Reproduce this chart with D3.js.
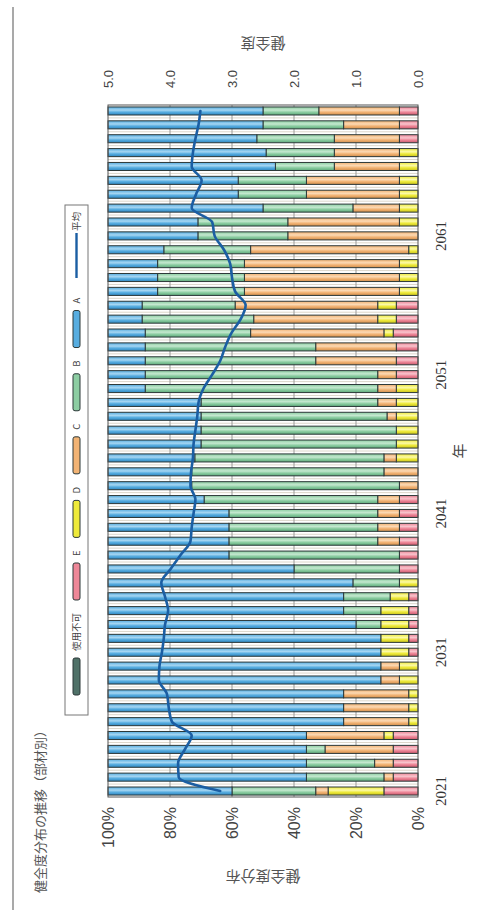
<!DOCTYPE html>
<html>
<head>
<meta charset="utf-8">
<script src="https://cdn.jsdelivr.net/npm/d3@7/dist/d3.min.js"></script>
<style>
  body { margin: 0; background: #ffffff; }
  svg { display: block; }
</style>
</head>
<body>
<svg id="chart" width="488" height="910"></svg>
<script>
// ---- data -------------------------------------------------------------
const years = [2021, 2022, 2023, 2024, 2025, 2026, 2027, 2028, 2029, 2030,
               2031, 2032, 2033, 2034, 2035, 2036, 2037, 2038, 2039, 2040,
               2041, 2042, 2043, 2044, 2045, 2046, 2047, 2048, 2049, 2050,
               2051, 2052, 2053, 2054, 2055, 2056, 2057, 2058, 2059, 2060,
               2061, 2062, 2063, 2064, 2065, 2066, 2067, 2068, 2069, 2070];

// share of members per soundness grade (%)
const gradeA = [40, 64, 64, 64, 64, 76, 76, 76, 88, 88,
                88, 88, 80, 76, 76, 79, 60, 39, 39, 39,
                39, 31, 27, 27, 28, 30, 30, 30, 30, 12,
                12, 12, 12, 12, 11, 11, 16, 16, 16, 18,
                29, 29, 50, 42, 42, 54, 51, 48, 50, 50];
const gradeB = [27, 25, 22, 6, 0, 0, 0, 0, 0, 0,
                0, 0, 8, 12, 15, 15, 34, 55, 48, 48,
                48, 56, 67, 62, 61, 63, 63, 60, 57, 75,
                75, 55, 55, 34, 36, 30, 28, 28, 28, 28,
                29, 29, 29, 22, 22, 19, 22, 25, 26, 18];
const gradeC = [4, 3, 6, 22, 25, 21, 21, 21, 6, 6,
                0, 0, 0, 0, 0, 0, 0, 0, 7, 7,
                7, 7, 6, 11, 4, 0, 0, 3, 6, 6,
                6, 26, 26, 43, 40, 46, 50, 50, 50, 51,
                42, 36, 15, 30, 30, 21, 21, 21, 18, 26];
const gradeD = [18, 0, 0, 0, 3, 3, 3, 3, 6, 6,
                9, 9, 9, 9, 6, 6, 0, 0, 0, 0,
                0, 0, 0, 0, 7, 7, 7, 7, 7, 7,
                0, 0, 0, 3, 6, 6, 6, 6, 6, 3,
                0, 6, 6, 6, 6, 6, 6, 0, 0, 0];
const gradeE = [11, 8, 8, 8, 8, 0, 0, 0, 0, 0,
                3, 3, 3, 3, 3, 0, 6, 6, 6, 6,
                6, 6, 0, 0, 0, 0, 0, 0, 0, 0,
                7, 7, 7, 8, 7, 7, 0, 0, 0, 0,
                0, 0, 0, 0, 0, 0, 0, 6, 6, 6];
const gradeX = [0, 0, 0, 0, 0, 0, 0, 0, 0, 0,
                0, 0, 0, 0, 0, 0, 0, 0, 0, 0,
                0, 0, 0, 0, 0, 0, 0, 0, 0, 0,
                0, 0, 0, 0, 0, 0, 0, 0, 0, 0,
                0, 0, 0, 0, 0, 0, 0, 0, 0, 0];

// average soundness (right axis, 0.0 - 5.0)
const average = [3.19, 3.86, 3.87, 3.76, 3.65, 3.97, 4.02, 4.05, 4.18, 4.17,
                 4.13, 4.10, 4.08, 4.03, 4.08, 4.14, 3.99, 3.83, 3.67, 3.65,
                 3.62, 3.59, 3.67, 3.66, 3.63, 3.62, 3.59, 3.56, 3.54, 3.46,
                 3.32, 3.19, 3.11, 3.01, 2.86, 2.78, 2.95, 3.00, 3.03, 3.13,
                 3.28, 3.32, 3.65, 3.58, 3.49, 3.65, 3.63, 3.59, 3.54, 3.51];

const seriesKeys   = ["使用不可", "E", "D", "C", "B", "A"];
const seriesValues = [gradeX, gradeE, gradeD, gradeC, gradeB, gradeA];
const pctTicks  = [0, 20, 40, 60, 80, 100];
const avgTicks  = [0, 1, 2, 3, 4, 5];
const yearTicks = [2021, 2031, 2041, 2051, 2061];

const titleText = "健全度分布の推移（部材別）";
const leftTitle = "健全度分布";
const rightTitle = "健全度";
const xTitle = "年";
const avgLabel = "平均";

// ---- styling ----------------------------------------------------------
const palette = {
  "使用不可": { base: "#4f7168", light: "#8fa9a0", dark: "#2f4a43" },
  "E": { base: "#ee8798", light: "#f8c3cc", dark: "#c9586c" },
  "D": { base: "#eeea3a", light: "#fbf9a8", dark: "#c9c21c" },
  "C": { base: "#f2b374", light: "#fbd9b4", dark: "#d18e4c" },
  "B": { base: "#8ccda2", light: "#c4e8cf", dark: "#5ea97a" },
  "A": { base: "#57ade0", light: "#a6d6f2", dark: "#2f86c0" }
};
const lineColor = "#1b5ea3";
const outline = "#2c3838";

// ---- layout: chart is built landscape, then turned a quarter turn -----
const W = 692, H = 310;
const svg = d3.select("#chart");

svg.append("line")
  .attr("x1", 13).attr("x2", 13).attr("y1", 7).attr("y2", 910)
  .attr("stroke", "#8c8c8c").attr("stroke-width", 1.5);

const defs = svg.append("defs");
seriesKeys.forEach((k, i) => {
  const c = palette[k];
  const gr = defs.append("linearGradient")
    .attr("id", "grad" + i)
    .attr("x1", 0).attr("x2", 1).attr("y1", 0).attr("y2", 0);
  gr.append("stop").attr("offset", "0%").attr("stop-color", c.dark);
  gr.append("stop").attr("offset", "35%").attr("stop-color", c.base);
  gr.append("stop").attr("offset", "60%").attr("stop-color", c.light);
  gr.append("stop").attr("offset", "100%").attr("stop-color", c.base);
});

const g = svg.append("g").attr("transform", "translate(108,797) rotate(-90)");

const x = d3.scaleBand().domain(years).range([0, W])
  .paddingInner(0.42).paddingOuter(0.14);
const y = d3.scaleLinear().domain([0, 100]).range([H, 0]);
const y2 = d3.scaleLinear().domain([0, 5]).range([H, 0]);

// table for the stack
const table = years.map((yr, i) => {
  const row = { year: yr };
  seriesKeys.forEach((k, j) => { row[k] = seriesValues[j][i]; });
  return row;
});
const stacked = d3.stack().keys(seriesKeys)(table);

// plot background
g.append("rect").attr("x", 0).attr("y", 0).attr("width", W).attr("height", H)
  .attr("fill", "#ffffff");

// faint separators between bars
const gapHalf = x.step() * x.paddingInner() / 2;
g.append("g").selectAll("line")
  .data(years.slice(1))
  .join("line")
  .attr("x1", d => x(d) - gapHalf).attr("x2", d => x(d) - gapHalf)
  .attr("y1", 0).attr("y2", H)
  .attr("stroke", "#dcd6ca").attr("stroke-width", 1);

// gridlines
g.append("g").selectAll("line")
  .data(pctTicks.filter(t => t > 0 && t < 100))
  .join("line")
  .attr("x1", 0).attr("x2", W)
  .attr("y1", d => y(d)).attr("y2", d => y(d))
  .attr("stroke", "#9a9a9a").attr("stroke-width", 1);

// stacked bars
g.append("g").selectAll("g")
  .data(stacked)
  .join("g")
  .attr("fill", (d, i) => `url(#grad${i})`)
  .selectAll("rect")
  .data(d => d.filter(s => s[1] - s[0] > 0))
  .join("rect")
  .attr("x", d => x(d.data.year))
  .attr("width", x.bandwidth())
  .attr("y", d => y(d[1]))
  .attr("height", d => y(d[0]) - y(d[1]))
  .attr("stroke", outline).attr("stroke-width", 1);

// average line
const avgLine = d3.line()
  .x((d, i) => x(years[i]) + x.bandwidth() / 2)
  .y(d => y2(d))
  .curve(d3.curveMonotoneX);
g.append("path").datum(average)
  .attr("d", avgLine)
  .attr("fill", "none")
  .attr("stroke", lineColor).attr("stroke-width", 2.6)
  .attr("stroke-linejoin", "round").attr("stroke-linecap", "round");

// frame
g.append("rect").attr("x", 0).attr("y", 0).attr("width", W).attr("height", H)
  .attr("fill", "none").attr("stroke", "#555").attr("stroke-width", 1);

// axes
const leftAxis = g.append("g")
  .call(d3.axisLeft(y).tickValues(pctTicks).tickFormat(d => d + "%").tickSize(0).tickPadding(10));
leftAxis.select(".domain").remove();
leftAxis.selectAll("text")
  .attr("font-family", "'Liberation Sans', Arial, sans-serif")
  .attr("font-size", 16).attr("fill", "#444");

const rightAxis = g.append("g").attr("transform", `translate(${W},0)`)
  .call(d3.axisRight(y2).tickValues(avgTicks).tickFormat(d3.format(".1f")).tickSize(0).tickPadding(17));
rightAxis.select(".domain").remove();
rightAxis.selectAll("text")
  .attr("font-family", "'Liberation Sans', Arial, sans-serif")
  .attr("font-size", 13).attr("fill", "#444");

const bottomAxis = g.append("g").attr("transform", `translate(0,${H})`)
  .call(d3.axisBottom(x).tickValues(yearTicks).tickSize(0).tickPadding(17));
bottomAxis.select(".domain").remove();
bottomAxis.selectAll("text")
  .attr("font-family", "'Liberation Serif', 'Times New Roman', serif")
  .attr("font-size", 15).attr("fill", "#333");

// axis titles
const cjk = "'Noto Sans CJK JP', 'Noto Sans', sans-serif";
g.append("text")
  .attr("transform", `translate(-79,${H / 2}) rotate(-90)`)
  .attr("text-anchor", "middle").attr("dy", "0.35em")
  .attr("font-family", cjk).attr("font-size", 15).attr("fill", "#555")
  .text(leftTitle);
g.append("text")
  .attr("transform", `translate(${W + 62},${H / 2}) rotate(-90)`)
  .attr("text-anchor", "middle").attr("dy", "0.35em")
  .attr("font-family", cjk).attr("font-size", 15).attr("fill", "#555")
  .text(rightTitle);
g.append("text")
  .attr("x", W / 2).attr("y", H + 42)
  .attr("text-anchor", "middle").attr("dy", "0.35em")
  .attr("font-family", cjk).attr("font-size", 15).attr("fill", "#444")
  .text(xTitle);

// chart title
g.append("text")
  .attr("x", -96).attr("y", -68).attr("dy", "0.35em")
  .attr("font-family", cjk).attr("font-size", 13).attr("fill", "#555")
  .text(titleText);

// legend
const legend = g.append("g");
legend.append("rect")
  .attr("x", 82).attr("y", -43).attr("width", 510).attr("height", 23)
  .attr("fill", "#fff").attr("stroke", "#777").attr("stroke-width", 1);
let cursor = 102;
seriesKeys.forEach((k, i) => {
  legend.append("rect")
    .attr("x", cursor).attr("y", -35).attr("width", 37).attr("height", 7)
    .attr("rx", 2)
    .attr("fill", palette[k].base).attr("stroke", outline).attr("stroke-width", 1);
  const t = legend.append("text")
    .attr("x", cursor + 44).attr("y", -31.5).attr("dy", "0.35em")
    .attr("font-family", cjk).attr("font-size", 9.5).attr("fill", "#444")
    .text(k);
  cursor += 44 + t.node().getComputedTextLength() + 13;
});
cursor = Math.max(cursor, 519);
legend.append("line")
  .attr("x1", cursor).attr("x2", cursor + 45)
  .attr("y1", -31.5).attr("y2", -31.5)
  .attr("stroke", lineColor).attr("stroke-width", 2.4);
legend.append("text")
  .attr("x", cursor + 47).attr("y", -31.5).attr("dy", "0.35em")
  .attr("font-family", cjk).attr("font-size", 9.5).attr("fill", "#444")
  .text(avgLabel);
</script>
</body>
</html>
